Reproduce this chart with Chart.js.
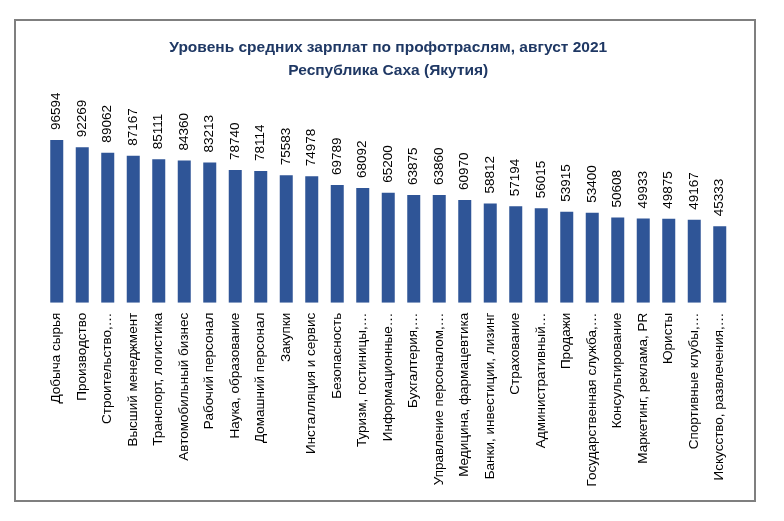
<!DOCTYPE html>
<html>
<head>
<meta charset="utf-8">
<script src="https://cdn.jsdelivr.net/npm/chart.js@4"></script>
<style>
  body { margin: 0; background: #fff; }
  #chart { position: absolute; left: 0; top: 0; }
  #frame { position: absolute; left: 14px; top: 19px; width: 738px; height: 479px; border: 2px solid #7f7f7f; pointer-events: none; }
</style>
</head>
<body>
<canvas id="chart" width="784" height="521"></canvas>
<div id="frame"></div>
<script>
// categories (truncated like in the source picture)
const categories = [
    'Добыча сырья', 'Производство', 'Строительство,…', 'Высший менеджмент',
    'Транспорт, логистика', 'Автомобильный бизнес', 'Рабочий персонал',
    'Наука, образование', 'Домашний персонал', 'Закупки', 'Инсталляция и сервис',
    'Безопасность', 'Туризм, гостиницы,…', 'Информационные…', 'Бухгалтерия,…',
    'Управление персоналом,…', 'Медицина, фармацевтика', 'Банки, инвестиции, лизинг',
    'Страхование', 'Административный…', 'Продажи', 'Государственная служба,…',
    'Консультирование', 'Маркетинг, реклама, PR', 'Юристы', 'Спортивные клубы,…',
    'Искусство, развлечения,…'
];
// average salary, rub
const salaries = [
    96594, 92269, 89062, 87167, 85111, 84360, 83213, 78740, 78114, 75583, 74978,
    69789, 68092, 65200, 63875, 63860, 60970, 58812, 57194, 56015, 53915, 53400,
    50608, 49933, 49875, 49167, 45333
];
const titleLines = ['Уровень средних зарплат по профотраслям, август 2021', 'Республика Саха (Якутия)'];

// value labels above bars, rotated
const valueLabels = {
    id: 'valueLabels',
    afterDatasetsDraw(chart) {
        const ctx = chart.ctx;
        const meta = chart.getDatasetMeta(0);
        ctx.save();
        ctx.font = '13.5px "Liberation Sans", Arial, sans-serif';
        ctx.fillStyle = '#000';
        ctx.textAlign = 'left';
        ctx.textBaseline = 'middle';
        meta.data.forEach((bar, i) => {
            ctx.save();
            ctx.translate(bar.x, bar.y - 10);
            ctx.rotate(-Math.PI / 2);
            ctx.fillText(String(salaries[i]), 0, 0);
            ctx.restore();
        });
        ctx.restore();
    }
};

new Chart(document.getElementById('chart'), {
    type: 'bar',
    data: {
        labels: categories,
        datasets: [{
            data: salaries,
            backgroundColor: '#2F5597',
            barPercentage: 0.51,
            categoryPercentage: 1
        }]
    },
    options: {
        responsive: false,
        animation: false,
        layout: { padding: { left: 44, right: 51.5, top: 0, bottom: 0 } },
        plugins: {
            legend: { display: false },
            tooltip: { enabled: false },
            title: {
                display: true,
                text: titleLines,
                color: '#1F3864',
                font: { family: '"Liberation Sans", Arial, sans-serif', size: 15.5, weight: 'bold', lineHeight: '23px' },
                padding: { top: 36, bottom: 18.5 }
            }
        },
        scales: {
            x: {
                grid: { display: false, drawTicks: false },
                border: { display: false },
                ticks: {
                    autoSkip: false,
                    maxRotation: 90,
                    minRotation: 90,
                    padding: 10,
                    color: '#000',
                    font: { family: '"Liberation Sans", Arial, sans-serif', size: 13.5 }
                },
                afterFit(scale) { scale.height = 218.3; }
            },
            y: {
                display: false,
                min: 0,
                max: 120000
            }
        }
    },
    plugins: [valueLabels]
});
</script>
</body>
</html>
